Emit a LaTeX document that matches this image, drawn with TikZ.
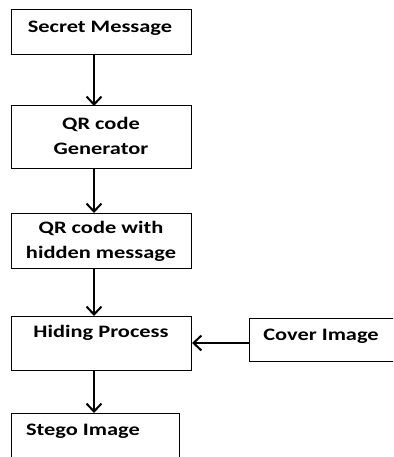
\documentclass[tikz,border=0pt]{standalone}
\usepackage{fontspec}
\setmainfont{Carlito}[FakeStretch=1.28]
\usetikzlibrary{arrows.meta}
\begin{document}
\begin{tikzpicture}[x=1pt,y=-1pt,
  box/.style={draw=black,line width=1pt},
  lbl/.style={font=\fontsize{17.5}{25}\selectfont\bfseries,text=black,align=center,inner sep=0pt},
  arr/.style={line width=2.3pt,-{Straight Barb[length=8pt,width=15pt,line width=2pt]}}]
\useasboundingbox (0,0) rectangle (393,457);
\clip (0,0) rectangle (393,457);
\fill[white] (0,0) rectangle (393,457);
% boxes
\draw[box] (11,10) rectangle (191,55);
\draw[box] (11,106) rectangle (191,168);
\draw[box] (11,213) rectangle (191,268);
\draw[box] (11,316) rectangle (191,370);
\draw[box] (249,318) rectangle (400,361);
\draw[box] (11,413) rectangle (179,470);
% anchors
\coordinate (s1b) at (94,55);
\coordinate (s2t) at (94,106);
\coordinate (s2b) at (94,168);
\coordinate (s3t) at (94,213);
\coordinate (s3b) at (94,268);
\coordinate (s4t) at (94,316);
\coordinate (s4b) at (94,370);
\coordinate (s4r) at (192,343);
\coordinate (c1l) at (249,343);
\coordinate (s5t) at (94,413);
% labels
\node[lbl] (t1) at (100,28) {Secret Message};
\node[lbl] (t2) at (101,136) {QR code\\Generator};
\node[lbl] (t3) at (101,241) {QR code with\\hidden message};
\node[lbl] (t4) at (101,333) {Hiding Process};
\node[lbl] (t5) at (321,336) {Cover Image};
\node[lbl] (t6) at (83,431) {Stego Image};
% arrows
\draw[arr] (s1b) -- (s2t);
\draw[arr] (s2b) -- (s3t);
\draw[arr] (s3b) -- (s4t);
\draw[arr] (c1l) -- (s4r);
\draw[arr] (s4b) -- (s5t);
\end{tikzpicture}
\end{document}
